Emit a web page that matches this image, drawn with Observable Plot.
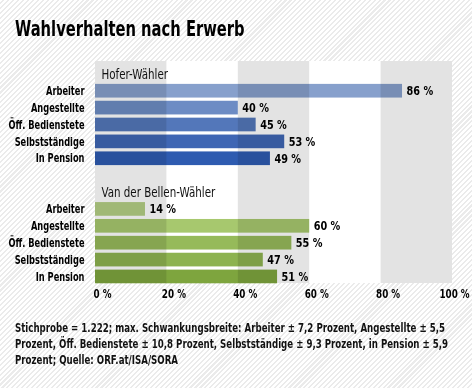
<!DOCTYPE html>
<html>
<head>
<meta charset="utf-8">
<script src="https://cdn.jsdelivr.net/npm/d3@7"></script>
<script src="https://cdn.jsdelivr.net/npm/@observablehq/plot@0.6"></script>
<style>
  html, body { margin: 0; padding: 0; }
  body {
    width: 472px; height: 388px; position: relative; overflow: hidden;
    background: repeating-linear-gradient(135deg, #ffffff 0px, #ffffff 2px, #ebebeb 2px, #ebebeb 3.5px);
    font-family: "DejaVu Sans Condensed", "Liberation Sans Narrow", sans-serif;
  }
  #title { position: absolute; left: 15px; top: 17px; font-size: 20.5px; font-weight: bold; color: #000; white-space: nowrap; transform-origin: 0 0; }
  #chart { position: absolute; left: 0; top: 50px; }
  #caption { position: absolute; left: 15px; top: 320px; font-size: 12px; line-height: 16px; font-weight: bold; color: #111; white-space: nowrap; transform-origin: 0 0; }
  #caption span { display: inline-block; }
</style>
</head>
<body>
<div id="title">Wahlverhalten nach Erwerb</div>
<div id="chart"></div>
<div id="caption"><span id="cap1">Stichprobe = 1.222; max. Schwankungsbreite: Arbeiter ± 7,2 Prozent, Angestellte ± 5,5</span><br><span>Prozent, Öff. Bedienstete ± 10,8 Prozent, Selbstständige ± 9,3 Prozent, in Pension ± 5,9</span><br><span>Prozent; Quelle: ORF.at/ISA/SORA</span></div>
<script>
const categories = ["Arbeiter", "Angestellte", "Öff. Bedienstete", "Selbstständige", "In Pension"];
const groups = ["Hofer-Wähler", "Van der Bellen-Wähler"];
const hofer = [86, 40, 45, 53, 49];
const vanDerBellen = [14, 60, 55, 47, 51];
const hoferColors = ["#87a0cc", "#6d8cc4", "#5377ba", "#3f66b4", "#2e5bb0"];
const vdbColors = ["#b4cf85", "#a7c86e", "#96ba5a", "#8db350", "#7ea53e"];
const xTicks = [0, 20, 40, 60, 80, 100];
const grayBands = [0, 40, 80];

const series = [hofer, vanDerBellen];
const seriesColors = [hoferColors, vdbColors];
const rows = [];
groups.forEach((g, gi) => {
  categories.forEach((c, ci) => {
    rows.push({key: g + "|" + c, group: g, category: c, value: series[gi][ci], color: seriesColors[gi][ci]});
  });
});
const yDomain = [
  "head|" + groups[0], ...categories.map(c => groups[0] + "|" + c),
  "gap",
  "head|" + groups[1], ...categories.map(c => groups[1] + "|" + c)
];
const headers = groups.map(g => ({key: "head|" + g, label: g}));

const font = '"DejaVu Sans Condensed", "Liberation Sans Narrow", sans-serif';
const tickFmt = d => d + " %";

// horizontal condensing factor of each text mark, in mark order
const condenseFactors = [];
function txt(data, options, factor) {
  condenseFactors.push(factor);
  return Plot.text(data, options);
}

const plot = Plot.plot({
  width: 472,
  height: 260,
  marginLeft: 95,
  marginRight: 20,
  marginTop: 11,
  marginBottom: 27,
  style: {background: "transparent", fontFamily: font, fontSize: "12px", color: "#000"},
  x: {domain: [0, 100], label: null, axis: null},
  y: {domain: yDomain, range: [17, 233.3], paddingInner: 0.19, paddingOuter: 0, round: false, label: null, axis: null},
  marks: [
    Plot.rectX([0], {x1: 0, x2: 100, fill: "#ffffff"}),
    Plot.rectX(grayBands, {x1: d => d, x2: d => d + 20, fill: "#e3e3e3"}),
    Plot.barX(rows, {y: "key", x: "value", fill: "color", mixBlendMode: "multiply"}),
    txt(rows, {y: "key", x: "value", text: d => d.value + " %", textAnchor: "start", dx: 4, fontWeight: "bold", fontSize: 12, fill: "#000"}, 0.9),
    txt(headers, {y: "key", x: 0, text: "label", textAnchor: "start", dx: 6, fontSize: 13.5, fill: "#111"}, 0.85),
    // category labels (y axis)
    txt(rows, {y: "key", x: 0, text: "category", textAnchor: "end", dx: -11, fontWeight: "bold", fontSize: 11.5, fill: "#000"}, 0.8),
    // x tick labels
    txt(xTicks.slice(0, -1), {x: d => d, frameAnchor: "bottom", lineAnchor: "top", dy: 6, dx: 7, text: tickFmt, fontWeight: "bold", fontSize: 11.5, fill: "#000"}, 0.85),
    txt(xTicks.slice(-1), {x: d => d, frameAnchor: "bottom", lineAnchor: "top", dy: 6, dx: 2, text: tickFmt, fontWeight: "bold", fontSize: 11.5, fill: "#000"}, 0.85)
  ]
});
document.getElementById("chart").appendChild(plot);

// condense text horizontally (about its anchor) to mimic the narrow typeface of the reference
plot.querySelectorAll('g[aria-label="text"]').forEach((g, i) => {
  const k = condenseFactors[i];
  if (!k) return;
  g.querySelectorAll("text").forEach(t => {
    const m = t.transform.baseVal.consolidate();
    const e = m ? m.matrix.e : 0, f = m ? m.matrix.f : 0;
    t.setAttribute("transform", `translate(${e} ${f}) scale(${k} 1)`);
  });
});

const title = document.getElementById("title");
title.style.transform = "scaleX(" + (230 / title.scrollWidth) + ")";
const cap = document.getElementById("caption");
const w1 = document.getElementById("cap1").getBoundingClientRect().width;
cap.style.transform = "scaleX(" + (430 / w1) + ")";
</script>
</body>
</html>
